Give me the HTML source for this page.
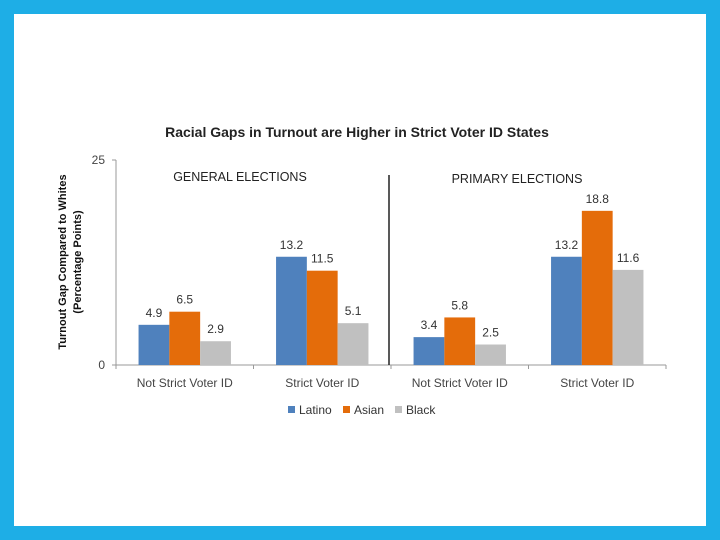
<!DOCTYPE html>
<html><head><meta charset="utf-8"><style>
body{margin:0;width:720px;height:540px;background:#1eaee6;overflow:hidden}
#card{position:absolute;left:14px;top:14px;width:692px;height:512px;background:#fff}
svg{position:absolute;left:0;top:0}
text{font-family:"Liberation Sans",sans-serif}
</style></head><body>
<div id="card"></div>
<svg id="chart" width="720" height="540"></svg>
<script>
const categories=["Not Strict Voter ID","Strict Voter ID","Not Strict Voter ID","Strict Voter ID"];
const seriesNames=["Latino","Asian","Black"];
const colors=["#4f81bd","#e46c0a","#c0c0c0"];
const latino=[4.9,13.2,3.4,13.2];
const asian=[6.5,11.5,5.8,18.8];
const black=[2.9,5.1,2.5,11.6];
const yTicks=[0,25];
const series=[latino,asian,black];
const svg=document.getElementById('chart');
const NS='http://www.w3.org/2000/svg';
const x0=116,x1=666,yBase=365,yTop=160,yMax=25;
const y=v=>yBase-(v/yMax)*(yBase-yTop);
const gw=(x1-x0)/categories.length,bw=30.8;
const gx=i=>x0+gw*i+(gw-3*bw)/2;
function el(t,a,txt){const e=document.createElementNS(NS,t);for(const k in a)e.setAttribute(k,a[k]);if(txt!=null)e.textContent=txt;svg.appendChild(e);return e;}
let t=el('text',{x:357,y:137,'text-anchor':'middle','font-size':14,'font-weight':'bold',fill:'#222'},'Racial Gaps in Turnout are Higher in Strict Voter ID States');

let yt=el('text',{transform:'translate(66,262) rotate(-90)','text-anchor':'middle','font-size':11,'font-weight':'bold',fill:'#111'},'Turnout Gap Compared to Whites');

let yt2=el('text',{transform:'translate(81,262) rotate(-90)','text-anchor':'middle','font-size':11,'font-weight':'bold',fill:'#111'},'(Percentage Points)');

let ya=el('line',{x1:x0,y1:yTop,x2:x0,y2:yBase,stroke:'#999'});

yTicks.forEach(v=>{let l=el('text',{x:x0-11,y:y(v)+4,'text-anchor':'end','font-size':12,fill:'#444'},String(v));

el('line',{x1:x0-4,y1:y(v),x2:x0,y2:y(v),stroke:'#999'});});
let xa=el('line',{x1:x0-4,y1:yBase,x2:x1,y2:yBase,stroke:'#999'});

for(let i=0;i<=categories.length;i++)el('line',{x1:x0+gw*i,y1:yBase,x2:x0+gw*i,y2:yBase+4,stroke:'#999'});
categories.forEach((c,i)=>{let l=el('text',{x:x0+gw*(i+0.5),y:387,'text-anchor':'middle','font-size':12,fill:'#444'},c);

series.forEach((s,j)=>{let r=el('rect',{x:gx(i)+bw*j,y:y(s[i]),width:bw,height:yBase-y(s[i]),fill:colors[j]});

let v=el('text',{x:gx(i)+bw*j+bw/2,y:y(s[i])-8,'text-anchor':'middle','font-size':12,fill:'#333'},s[i].toFixed(1));
});});
let dv=el('line',{x1:389,y1:175,x2:389,y2:yBase,stroke:'#222','stroke-width':1.5});

let g1=el('text',{x:240,y:181,'text-anchor':'middle','font-size':12.5,fill:'#222'},'GENERAL ELECTIONS');

let g2=el('text',{x:517,y:183,'text-anchor':'middle','font-size':12.5,fill:'#222'},'PRIMARY ELECTIONS');

const lx=[288,343,395];
seriesNames.forEach((n,j)=>{let r=el('rect',{x:lx[j],y:406,width:7,height:7,fill:colors[j]});

let l=el('text',{x:lx[j]+11,y:414,'font-size':12,fill:'#333'},n);
});
</script>
</body></html>
